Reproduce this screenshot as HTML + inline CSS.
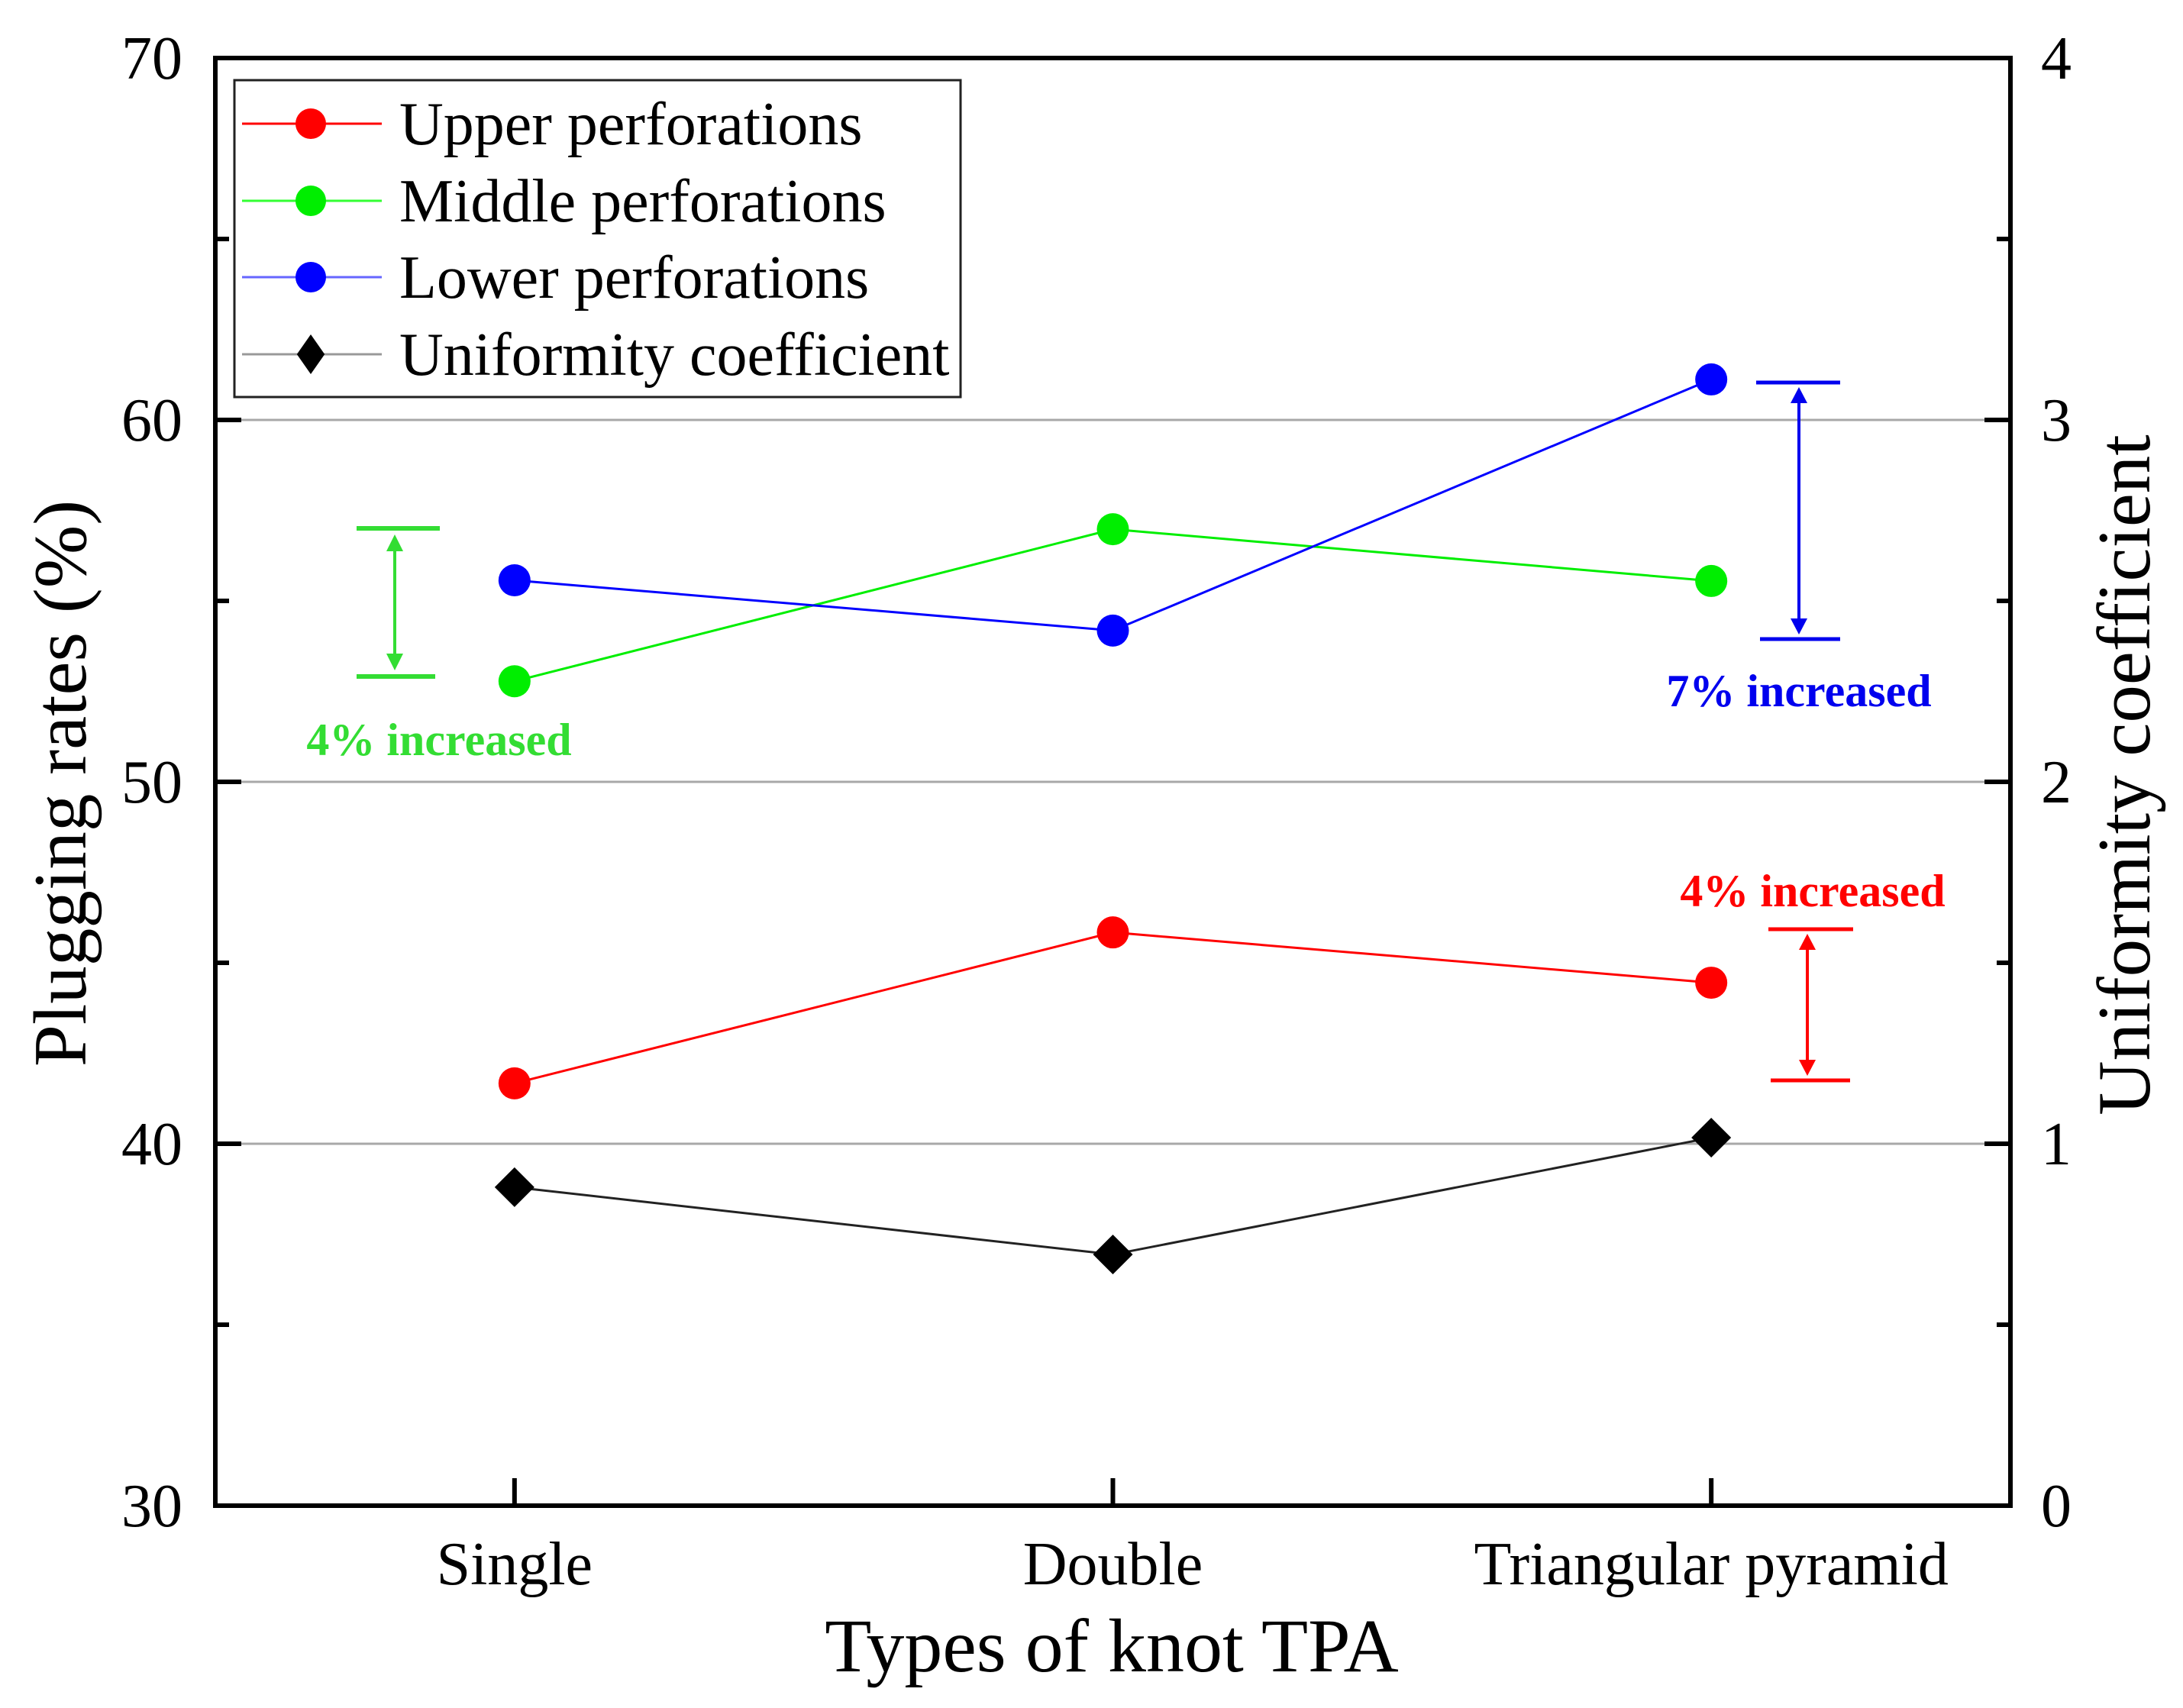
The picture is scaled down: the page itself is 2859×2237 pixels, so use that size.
<!DOCTYPE html>
<html><head><meta charset="utf-8"><style>
html,body{margin:0;padding:0;background:#fff}
svg{display:block}
text{font-family:"Liberation Serif","Times New Roman",serif}
</style></head><body>
<svg id="chart" width="2859" height="2237" viewBox="0 0 2859 2237" xmlns="http://www.w3.org/2000/svg">
<g id="grid"></g>
<g id="series"></g>
<g id="annot">
 <g stroke="#33dd33" fill="#33dd33">
  <line x1="467" y1="692" x2="576" y2="692" stroke-width="6"/>
  <line x1="467" y1="886" x2="570" y2="886" stroke-width="6"/>
  <line x1="517" y1="710" x2="517" y2="868" stroke-width="4"/>
  <polygon points="517,700 506,722 528,722" stroke="none"/>
  <polygon points="517,878 506,856 528,856" stroke="none"/>
  <text x="575" y="989" font-size="60" font-weight="bold" text-anchor="middle" stroke="none">4% increased</text>
 </g>
 <g stroke="#0000ee" fill="#0000ee">
  <line x1="2300" y1="501" x2="2410" y2="501" stroke-width="5"/>
  <line x1="2305" y1="837" x2="2410" y2="837" stroke-width="5"/>
  <line x1="2356" y1="518" x2="2356" y2="820" stroke-width="4"/>
  <polygon points="2356,507 2345,528 2367,528" stroke="none"/>
  <polygon points="2356,831 2345,810 2367,810" stroke="none"/>
  <text x="2356" y="925" font-size="60" font-weight="bold" text-anchor="middle" stroke="none">7% increased</text>
 </g>
 <g stroke="#ff0000" fill="#ff0000">
  <line x1="2316" y1="1217" x2="2427" y2="1217" stroke-width="5"/>
  <line x1="2319" y1="1415" x2="2423" y2="1415" stroke-width="5"/>
  <line x1="2367" y1="1232" x2="2367" y2="1400" stroke-width="4"/>
  <polygon points="2367,1223 2356,1244 2378,1244" stroke="none"/>
  <polygon points="2367,1409 2356,1388 2378,1388" stroke="none"/>
  <text x="2374" y="1187" font-size="60" font-weight="bold" text-anchor="middle" stroke="none">4% increased</text>
 </g>
</g>
<g id="axes"></g>
<g id="legend">
 <rect x="307" y="105" width="951" height="415" fill="#fff" stroke="#222" stroke-width="3"/>
</g>
<text transform="translate(112,1026) rotate(-90)" font-size="99" text-anchor="middle">Plugging rates (%)</text>
<text transform="translate(2815,1015) rotate(-90)" font-size="99" text-anchor="middle">Uniformity coefficient</text>
<text x="1456" y="2189" font-size="100" text-anchor="middle">Types of knot TPA</text>
</svg>
<script>
const categories = ["Single", "Double", "Triangular pyramid"];
const upperValues = [41.67, 45.84, 44.45];
const middleValues = [52.78, 56.98, 55.55];
const lowerValues = [55.57, 54.18, 61.12];
const uniformityValues = [0.88, 0.694, 1.017];
const leftTicks = [30, 40, 50, 60, 70];
const rightTicks = [0, 1, 2, 3, 4];
const gridValues = [40, 50, 60];
const legendLabels = ["Upper perforations", "Middle perforations", "Lower perforations", "Uniformity coefficient"];

const NS = "http://www.w3.org/2000/svg";
const L = 282, R = 2633, T = 76, B = 1972;
function xScale(i){ return L + (R - L) * (i + 0.5) / categories.length; }
function yLeft(v){ return B - (v - 30) / 40 * (B - T); }
function yRight(v){ return B - v / 4 * (B - T); }
function mk(tag, attrs, parent){
  const e = document.createElementNS(NS, tag);
  for (const k in attrs) e.setAttribute(k, attrs[k]);
  parent.appendChild(e);
  return e;
}
const grid = document.getElementById('grid');
const axes = document.getElementById('axes');
const series = document.getElementById('series');
const legend = document.getElementById('legend');

gridValues.forEach(v => {
  const g = mk('line', {x1: L, x2: R, y1: yLeft(v), y2: yLeft(v), stroke: '#a8a8a8', 'stroke-width': 3}, grid);
  
  
});

// axes frame
const frame = mk('rect', {x: L, y: T, width: R - L, height: B - T, fill: 'none', stroke: '#000', 'stroke-width': 6}, axes);



// left ticks
for (let v = 30; v <= 70; v += 5) {
  const major = v % 10 === 0;
  const t = mk('line', {x1: L, x2: L + (major ? 34 : 18), y1: yLeft(v), y2: yLeft(v), stroke: '#000', 'stroke-width': 6}, axes);
  
  
}
leftTicks.forEach(v => {
  const t = mk('text', {x: 239, y: yLeft(v) + 27, 'font-size': 80, 'text-anchor': 'end'}, axes);
  t.textContent = v;
  
  
});
// right ticks
for (let v = 0; v <= 4; v += 0.5) {
  const major = Number.isInteger(v);
  const t = mk('line', {x1: R, x2: R - (major ? 34 : 18), y1: yRight(v), y2: yRight(v), stroke: '#000', 'stroke-width': 6}, axes);
  
  
}
rightTicks.forEach(v => {
  const t = mk('text', {x: 2673, y: yRight(v) + 27, 'font-size': 80, 'text-anchor': 'start'}, axes);
  t.textContent = v;
  
  
});
// x ticks
categories.forEach((c, i) => {
  const t = mk('line', {x1: xScale(i), x2: xScale(i), y1: B, y2: B - 36, stroke: '#000', 'stroke-width': 6}, axes);
  
  
  const lab = mk('text', {x: xScale(i), y: 2075, 'font-size': 80, 'text-anchor': 'middle'}, axes);
  lab.textContent = c;
  
  
});

function circleSeries(vals, color, name){
  const pts = vals.map((v, i) => xScale(i) + ',' + yLeft(v)).join(' ');
  const pl = mk('polyline', {points: pts, fill: 'none', stroke: color, 'stroke-width': 3}, series);
  
  
  vals.forEach((v, i) => {
    const c = mk('circle', {cx: xScale(i), cy: yLeft(v), r: 21, fill: color}, series);
    
    
  });
}
circleSeries(middleValues, '#00ee00', 'middle-perforations');
circleSeries(lowerValues, '#0000ff', 'lower-perforations');
circleSeries(upperValues, '#ff0000', 'upper-perforations');
(function(){
  const pts = uniformityValues.map((v, i) => xScale(i) + ',' + yRight(v)).join(' ');
  const pl = mk('polyline', {points: pts, fill: 'none', stroke: '#222', 'stroke-width': 3}, series);
  
  
  uniformityValues.forEach((v, i) => {
    const x = xScale(i), y = yRight(v), s = 26;
    const d = mk('polygon', {points: `${x},${y-s} ${x+s},${y} ${x},${y+s} ${x-s},${y}`, fill: '#000'}, series);
    
    
  });
})();

// legend
const legendColors = ['#ff0000', '#00ee00', '#0000ff', '#000'];
const lineColors = ['#ff0000', '#33ff33', '#6666ff', '#999'];
const rowY = [162, 263, 363, 464];
legendLabels.forEach((lab, i) => {
  const g = mk('g', {}, legend);
  
  
  mk('line', {x1: 317, x2: 500, y1: rowY[i], y2: rowY[i], stroke: lineColors[i], 'stroke-width': 3}, g);
  if (i < 3) mk('circle', {cx: 407, cy: rowY[i], r: 20, fill: legendColors[i]}, g);
  else { const x = 407, y = rowY[i], s = 26; mk('polygon', {points: `${x},${y-s} ${x+s*0.7},${y} ${x},${y+s} ${x-s*0.7},${y}`, fill: '#000'}, g); }
  const t = mk('text', {x: 523, y: rowY[i] + 27, 'font-size': 80}, g);
  t.textContent = lab;
});
</script>
</body></html>
